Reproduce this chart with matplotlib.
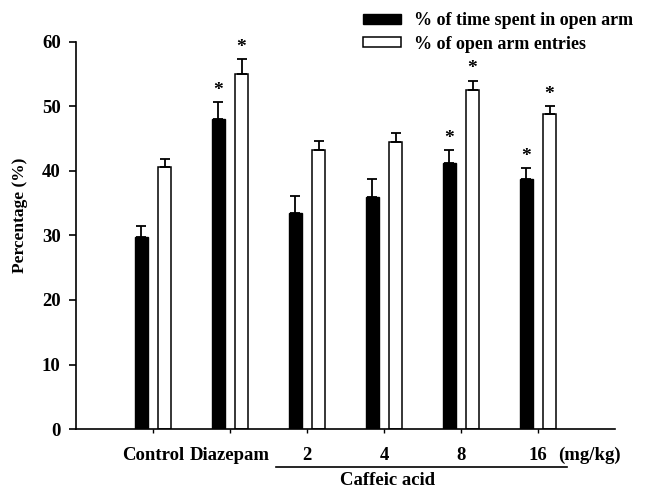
import matplotlib
matplotlib.use("Agg")
import matplotlib.pyplot as plt
import numpy as np

groups = ["Control", "Diazepam", "2", "4", "8", "16"]
time_open = [29.8, 48.1, 33.5, 36.0, 41.3, 38.7]
time_err = [1.7, 2.6, 2.7, 2.7, 1.9, 1.7]
entries_open = [40.6, 55.1, 43.3, 44.5, 52.5, 48.8]
entries_err = [1.3, 2.3, 1.4, 1.4, 1.5, 1.2]
time_sig = [False, True, False, False, True, True]
entries_sig = [False, True, False, False, True, True]
yticks = [0, 10, 20, 30, 40, 50, 60]

plt.rcParams['font.family'] = ['Liberation Serif', 'DejaVu Serif']
plt.rcParams['font.weight'] = 'bold'

fig = plt.figure(figsize=(6.5, 4.9), dpi=100)
ax = fig.add_axes([76/650, 1-429/490, (615-76)/650, (429-42)/490])

x = np.arange(len(groups))
w = 0.18
off = 0.15
b1 = ax.bar(x - off, time_open, w, color='black', edgecolor='black', linewidth=1,
            label='% of time spent in open arm')
b2 = ax.bar(x + off, entries_open, w, color='white', edgecolor='black', linewidth=1.1,
            label='% of open arm entries')
ax.errorbar(x - off, time_open, yerr=[np.zeros(len(x)), time_err], fmt='none',
            ecolor='black', elinewidth=1.3, capsize=3.6, capthick=1.3)
ax.errorbar(x + off, entries_open, yerr=[np.zeros(len(x)), entries_err], fmt='none',
            ecolor='black', elinewidth=1.3, capsize=3.6, capthick=1.3)

for xi, v, e, s in zip(x - off, time_open, time_err, time_sig):
    if s:
        ax.text(xi, v + e + 0.5, '*', ha='center', va='bottom', fontsize=14, fontweight='bold')
for xi, v, e, s in zip(x + off, entries_open, entries_err, entries_sig):
    if s:
        ax.text(xi, v + e + 0.5, '*', ha='center', va='bottom', fontsize=14, fontweight='bold')

ax.set_xlim(-1, 6)
ax.set_ylim(0, 60)
ax.set_yticks(yticks)
ax.set_yticklabels([str(t) for t in yticks], fontsize=13.5, fontweight='bold')
ax.set_xticks(x)
ax.set_xticklabels([])
ax.tick_params(axis='y', direction='out', length=5, width=1.2, pad=6)
ax.tick_params(axis='x', direction='out', length=3, width=1)
for sp in ['top', 'right']:
    ax.spines[sp].set_visible(False)
ax.spines['left'].set_linewidth(1.2)
ax.spines['bottom'].set_linewidth(1.2)

# category labels
for xi, g in zip(x, groups):
    ax.annotate(g, xy=(xi, 0), xycoords=('data', 'axes fraction'),
                xytext=(0, -19), textcoords='offset points', ha='center', va='center',
                fontsize=13.5, fontweight='bold')
ax.annotate('(mg/kg)', xy=(5, 0), xycoords=('data', 'axes fraction'),
            xytext=(37, -19), textcoords='offset points', ha='center', va='center',
            fontsize=13.5, fontweight='bold')

# Caffeic acid bracket line
line_y = -(467-429)/387
ax.plot([1.6, 5.38], [line_y, line_y], transform=ax.get_xaxis_transform(),
        color='black', linewidth=1.2, clip_on=False)
ax.text(3.05, -(480-429)/387, 'Caffeic acid', transform=ax.get_xaxis_transform(),
        ha='center', va='center', fontsize=13.5, fontweight='bold')

fig.text(20/650, 1-215/490, 'Percentage (%)', rotation=90, ha='center', va='center',
         fontsize=12.5, fontweight='bold')

leg = fig.legend(handles=[b1, b2], loc='upper left', bbox_to_anchor=(356/650, 1-5/490),
                 frameon=False, fontsize=13, handlelength=2.1, handleheight=0.5,
                 handletextpad=0.7, labelspacing=0.35, borderaxespad=0)
for t in leg.get_texts():
    t.set_fontweight('bold')

fig.savefig('out.png', dpi=100)
